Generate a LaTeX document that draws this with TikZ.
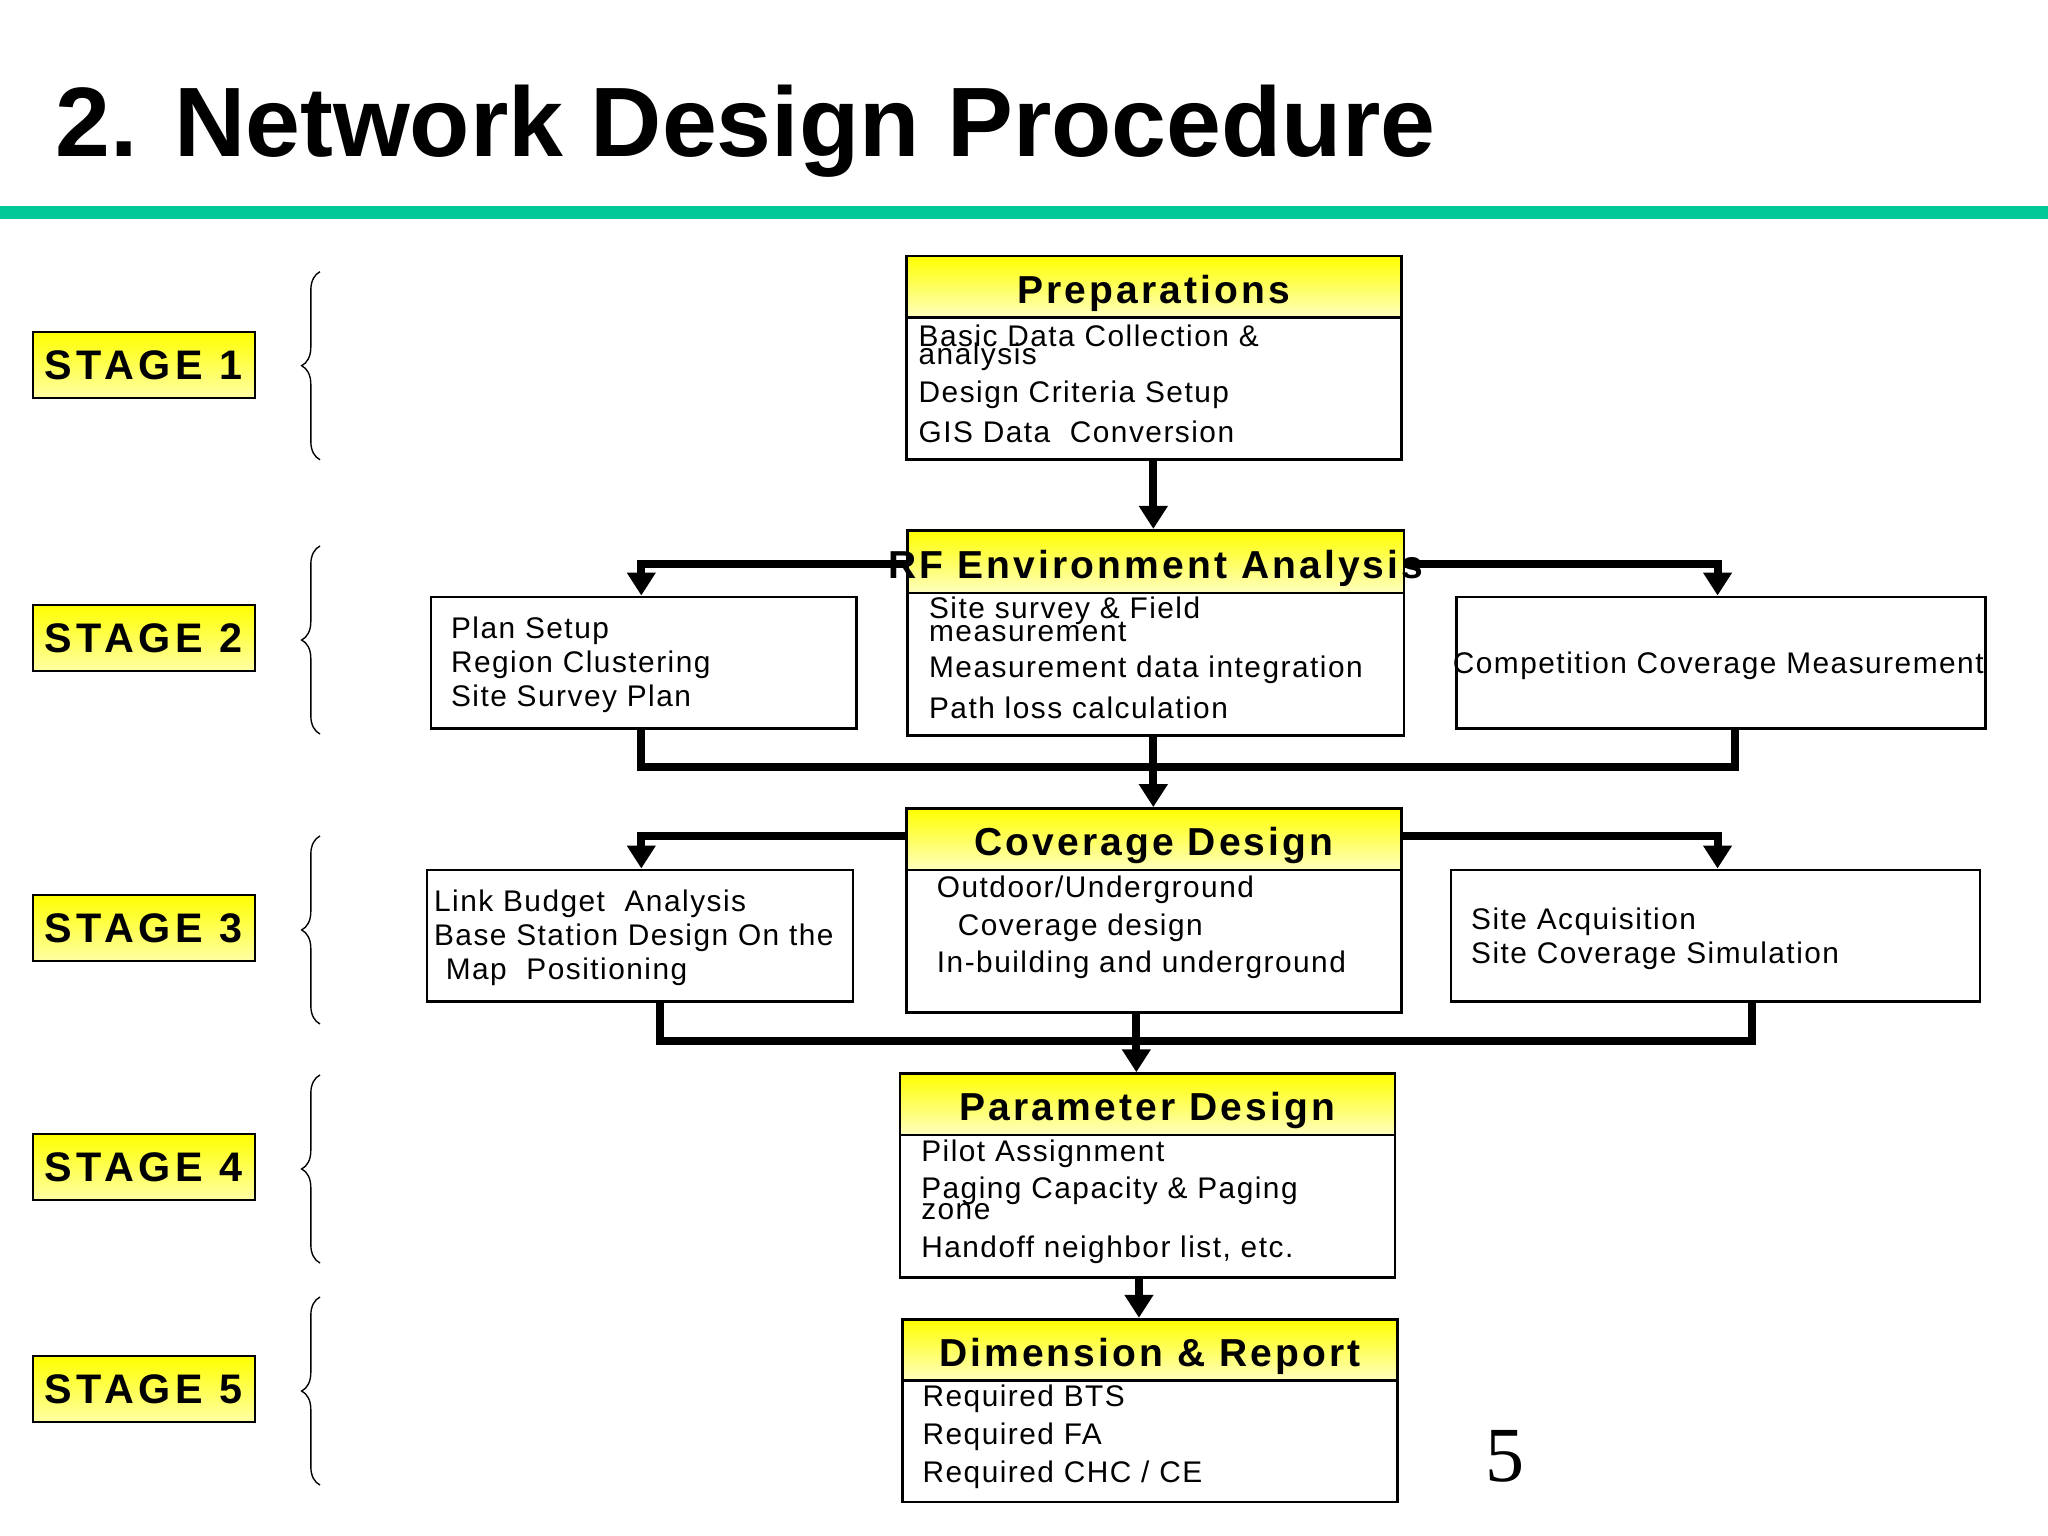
\documentclass[tikz,border=0pt]{standalone}
\usepackage{fontspec}
\setmainfont{Liberation Sans}
\usetikzlibrary{fit,decorations.pathreplacing,arrows.meta}
\begin{document}
\begin{tikzpicture}[x=0.02cm,y=-0.02cm,
  box/.style={draw,line width=1.2pt,inner sep=0pt},
  band/.style={draw,line width=1.2pt,inner sep=0pt,top color=yellow,bottom color=yellow!25},
  bt/.style={yshift=-0.1cm,font=\fontsize{17}{17}\bfseries\addfontfeature{LetterSpace=8}},
  stage/.style={draw,line width=0.8pt,inner sep=0pt,top color=yellow,bottom color=yellow!35},
  txt/.style={anchor=west,inner sep=0pt,font=\fontsize{13}{13}\selectfont\addfontfeature{LetterSpace=5}},
  flow/.style={line width=3.5pt,-{Triangle[length=10pt,width=12pt]}},
  bus/.style={line width=3.5pt},
  brc/.style={decorate,decoration={brace,mirror,amplitude=8pt},line width=0.6pt}]
\useasboundingbox (0,0) rectangle (1568,1176);
% title
\node[anchor=base west,inner sep=0pt,font=\fontsize{43}{43}\bfseries] (title) at (42,120) {2. Network Design Procedure};
\fill[color={rgb,255:red,0;green,200;blue,150}] (0,158) rectangle (1568,168);
% stages
\foreach \n/\a/\b in {1/254/305,2/463/514,3/685/736,4/868/919,5/1038/1089}{
  \node[stage,fit={(25,\a)(195,\b)}] (s\n) {};
  \node[font=\fontsize{18}{18}\bfseries\addfontfeature{LetterSpace=12}] (s\n t) at (s\n.center) {STAGE \n};
}
\foreach \n/\a/\b in {1/208/352,2/418/562,3/640/784,4/823/967,5/993/1137}{
  \draw[brc] (245,\a) -- (245,\b);
}
% stage 1
\node[box,fit={(694,196)(1073,352)}] (prep) {};
\node[band,fit={(694,196)(1073,243)}] (prepb) {};
\node[bt] (prept) at (prepb.center) {Preparations};
\node[txt] (p1) at (703,257) {Basic Data Collection \&};
\node[txt] (p2) at (703,273) {analysis};
\node[txt] (p3) at (703,302) {Design Criteria Setup};
\node[txt] (p4) at (703,331) {GIS Data\ \ Conversion};
% stage 2
\node[box,fit={(695,406)(1075,563)}] (rf) {};
\node[band,fit={(695,406)(1075,454)}] (rfb) {};
\node[bt] (rft) at (rfb.center) {RF Environment Analysis};
\node[txt] (r1) at (711,468) {Site survey \& Field};
\node[txt] (r2) at (711,484) {measurement};
\node[txt] (r3) at (711,513) {Measurement data integration};
\node[txt] (r4) at (711,542) {Path loss calculation};
\node[box,fit={(330,457)(656,558)}] (plan) {};
\node[txt] (pl1) at (345,483) {Plan Setup};
\node[txt] (pl2) at (345,509) {Region Clustering};
\node[txt] (pl3) at (345,535) {Site Survey Plan};
\node[box,fit={(1115,457)(1520,558)}] (comp) {};
\node[txt] (c1) at (1112,510) {Competition Coverage Measurement};
% stage 3
\node[box,fit={(694,619)(1073,775)}] (cov) {};
\node[band,fit={(694,619)(1073,666)}] (covb) {};
\node[bt] (covt) at (covb.center) {Coverage Design};
\node[txt] (cv1) at (717,681) {Outdoor/Underground};
\node[txt] (cv2) at (733,710) {Coverage design};
\node[txt] (cv3) at (717,739) {In-building and underground};
\node[box,fit={(327,666)(653,767)}] (link) {};
\node[txt] (l1) at (332,692) {Link Budget\ \ Analysis};
\node[txt] (l2) at (332,718) {Base Station Design On the};
\node[txt] (l3) at (341,744) {Map\ \ Positioning};
\node[box,fit={(1111,666)(1516,767)}] (site) {};
\node[txt] (si1) at (1126,706) {Site Acquisition};
\node[txt] (si2) at (1126,732) {Site Coverage Simulation};
% stage 4
\node[box,fit={(689,822)(1068,978)}] (par) {};
\node[band,fit={(689,822)(1068,869)}] (parb) {};
\node[bt] (part) at (parb.center) {Parameter Design};
\node[txt] (pa1) at (705,883) {Pilot Assignment};
\node[txt] (pa2) at (705,912) {Paging Capacity \& Paging};
\node[txt] (pa3) at (705,928) {zone};
\node[txt] (pa4) at (705,957) {Handoff neighbor list, etc.};
% stage 5
\node[box,fit={(691,1010)(1070,1150)}] (dim) {};
\node[band,fit={(691,1010)(1070,1057)}] (dimb) {};
\node[bt] (dimt) at (dimb.center) {Dimension \& Report};
\node[txt] (d1) at (706,1071) {Required BTS};
\node[txt] (d2) at (706,1100) {Required FA};
\node[txt] (d3) at (706,1129) {Required CHC / CE};
\node[font=\fontsize{34}{34}\fontspec{Liberation Serif}] (pg) at (1152,1115) {5};
% connectors
\coordinate (rfl) at (695,432); \coordinate (rfr) at (1075,432);
\coordinate (cvl) at (694,640); \coordinate (cvr) at (1073,640);
\draw[flow] (883,352) -- (rf.north -| 883,0);
\draw[flow] (rfl) -- (491,432) -- (plan.north -| 491,0);
\draw[flow] (rfr) -- (1315,432) -- (comp.north -| 1315,0);
\draw[bus] (plan.south -| 491,0) -- (491,587) -- (1328,587) -- (comp.south -| 1328,0);
\draw[flow] (rf.south -| 883,0) -- (cov.north -| 883,0);
\draw[flow] (cvl) -- (491,640) -- (link.north -| 491,0);
\draw[flow] (cvr) -- (1315,640) -- (site.north -| 1315,0);
\draw[bus] (link.south -| 505,0) -- (505,797) -- (1341,797) -- (site.south -| 1341,0);
\draw[flow] (cov.south -| 870,0) -- (par.north -| 870,0);
\draw[flow] (par.south -| 872,0) -- (dim.north -| 872,0);
\end{tikzpicture}
\end{document}
